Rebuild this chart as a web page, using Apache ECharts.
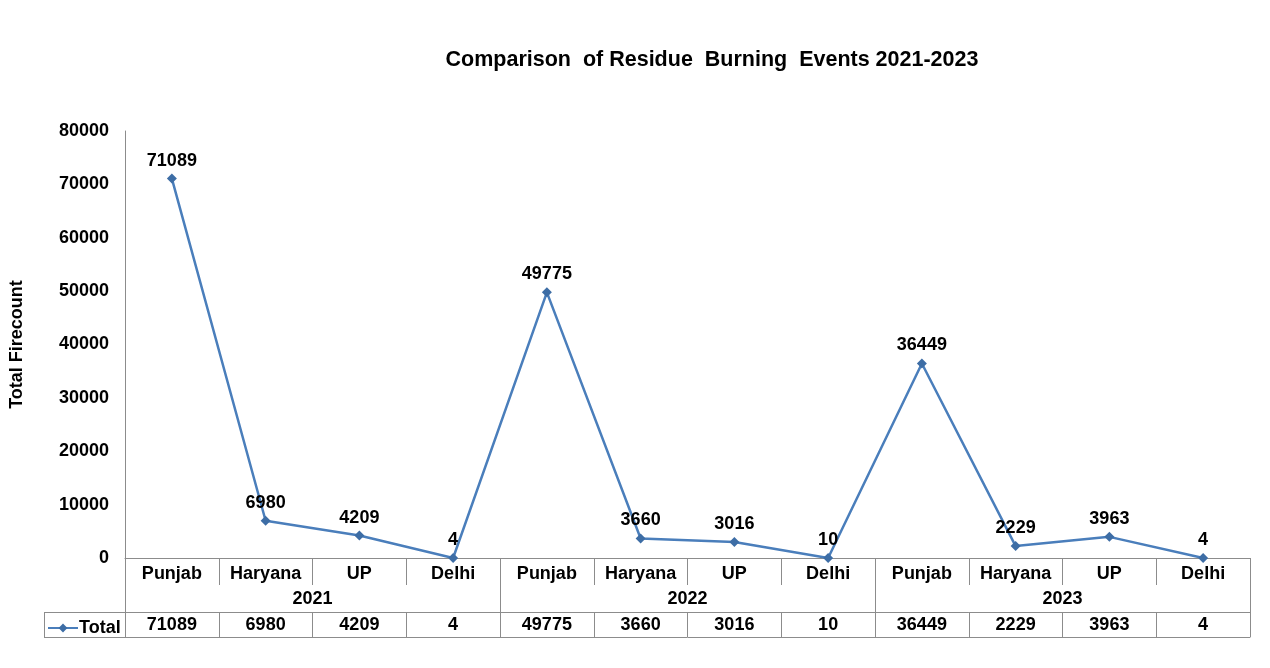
<!DOCTYPE html>
<html>
<head>
<meta charset="utf-8">
<script src="https://cdn.jsdelivr.net/npm/echarts@6/dist/echarts.min.js"></script>
<style>
html,body{margin:0;padding:0;background:#fff;}
#main{width:1270px;height:668px;}
</style>
</head>
<body>
<div id="main"></div>
<script>
const states = ['Punjab','Haryana','UP','Delhi','Punjab','Haryana','UP','Delhi','Punjab','Haryana','UP','Delhi'];
const years = ['2021','2022','2023'];
const totals = [71089, 6980, 4209, 4, 49775, 3660, 3016, 10, 36449, 2229, 3963, 4];
const yTicks = {min: 0, max: 80000, interval: 10000};
const seriesName = 'Total';
const titleText = 'Comparison  of Residue  Burning  Events 2021-2023';
const yName = 'Total Firecount';

const FONT = '"Liberation Sans", Arial, sans-serif';
const gridColor = '#8c8c8c';
const chart = echarts.init(document.getElementById('main'));
const boldTxt = {fontFamily: FONT, fontWeight: 'bold', fontSize: 18, color: '#000'};

chart.setOption({
  backgroundColor: '#fff',
  animation: false,
  title: {
    text: titleText, left: 707, top: 44, textAlign: 'center',
    textStyle: {fontFamily: FONT, fontWeight: 'bold', fontSize: 21.5, color: '#000'}
  },
  legend: {
    data: [seriesName], left: 42, top: 614, itemWidth: 30, itemHeight: 11, itemGap: 4,
    textStyle: Object.assign({}, boldTxt, {padding: [0,0,0,-4]})
  },
  grid: {left: 125, right: 20, top: 131, bottom: 110, containLabel: false, outerBoundsMode: 'none'},
  xAxis: [
    {
      type: 'category', data: states, position: 'bottom',
      axisLine: {show: true, lineStyle: {color: gridColor, width: 1}},
      axisTick: {show: true, interval: 0, length: 27, lineStyle: {color: gridColor}},
      axisLabel: Object.assign({interval: 0, margin: 7}, boldTxt)
    },
    {
      type: 'category', data: years, position: 'bottom',
      axisLine: {show: false},
      axisTick: {show: true, interval: 0, length: 54, lineStyle: {color: gridColor}},
      axisLabel: Object.assign({interval: 0, margin: 32}, boldTxt)
    },
    {
      type: 'category', data: totals.map(String), position: 'bottom', offset: 54,
      axisLine: {show: true, lineStyle: {color: gridColor, width: 1}},
      axisTick: {show: true, interval: 0, length: 25, lineStyle: {color: gridColor}},
      axisLabel: Object.assign({interval: 0, margin: 4}, boldTxt)
    },
    {
      type: 'category', data: states, position: 'bottom', offset: 79,
      axisLine: {show: true, lineStyle: {color: gridColor, width: 1}},
      axisTick: {show: false}, axisLabel: {show: false}
    }
  ],
  yAxis: {
    type: 'value', min: yTicks.min, max: yTicks.max, interval: yTicks.interval,
    name: yName, nameLocation: 'middle', nameGap: 99, nameRotate: 90,
    nameTextStyle: boldTxt,
    axisLine: {show: true, lineStyle: {color: gridColor, width: 1}},
    axisTick: {show: false},
    splitLine: {show: false},
    axisLabel: Object.assign({margin: 16, formatter: v => String(v)}, boldTxt)
  },
  graphic: [
    {type: 'line', shape: {x1: 44, y1: 612.5, x2: 125, y2: 612.5}, style: {stroke: gridColor, lineWidth: 1}},
    {type: 'line', shape: {x1: 44, y1: 637.5, x2: 125, y2: 637.5}, style: {stroke: gridColor, lineWidth: 1}},
    {type: 'line', shape: {x1: 44.5, y1: 612, x2: 44.5, y2: 638}, style: {stroke: gridColor, lineWidth: 1}}
  ],
  series: [{
    name: seriesName, type: 'line', data: totals, xAxisIndex: 0,
    symbol: 'diamond', symbolSize: 10,
    lineStyle: {color: '#4a7ebb', width: 2.5},
    itemStyle: {color: '#3d6da5'},
    label: Object.assign({show: true, position: 'top', distance: 4}, boldTxt)
  }]
});
</script>
</body>
</html>
